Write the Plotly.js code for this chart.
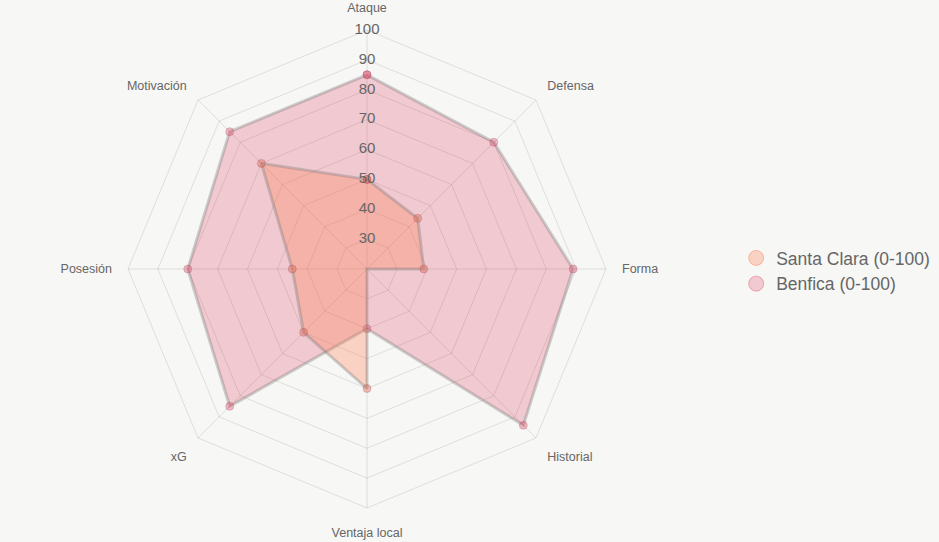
<!DOCTYPE html>
<html>
<head>
<meta charset="utf-8">
<script src="https://cdn.plot.ly/plotly-3.0.1.min.js"></script>
<style>html,body{margin:0;padding:0;background:#f7f7f5;}#chart{width:939px;height:542px;}</style>
</head>
<body>
<div id="chart"></div>
<script>
const categories = ["Ataque", "Defensa", "Forma", "Historial", "Ventaja local", "xG", "Posesión", "Motivación"];
const santaClara = [50, 44, 39, 20, 60, 50, 45, 70];
const benfica = [85, 80, 89, 94, 40, 85, 80, 85];
const seriesNames = ["Santa Clara (0-100)", "Benfica (0-100)"];
const tickVals = [30, 40, 50, 60, 70, 80, 90, 100];

const closeLoop = a => a.concat([a[0]]);

function areaTrace(values, fill, pointColor) {
  return {
    type: "scatterpolar",
    r: closeLoop(values),
    theta: closeLoop(categories),
    mode: "lines+markers",
    fill: "toself",
    fillcolor: fill,
    line: { color: "rgba(120,120,120,0.35)", width: 3 },
    marker: { size: 8, color: pointColor, line: { width: 1, color: "rgba(150,60,70,0.25)" } },
    showlegend: false,
    hoverinfo: "skip"
  };
}

function legendTrace(name, color, edge) {
  return {
    type: "scatterpolar",
    r: [null], theta: [null],
    mode: "markers",
    name: name,
    marker: { size: 15, color: color, line: { width: 1, color: edge } },
    hoverinfo: "skip"
  };
}

const tickTrace = {
  type: "scatterpolar",
  r: tickVals,
  theta: tickVals.map(() => categories[0]),
  mode: "text",
  text: tickVals.map(String),
  textposition: "middle center",
  textfont: { family: "Liberation Sans, Arial, sans-serif", size: 15, color: "#666" },
  showlegend: false,
  hoverinfo: "skip",
  cliponaxis: false
};

const data = [
  areaTrace(benfica, "rgba(220,20,60,0.2)", "rgba(220,70,100,0.35)"),
  areaTrace(santaClara, "rgba(255,127,80,0.3)", "rgba(225,100,80,0.4)"),
  tickTrace,
  legendTrace(seriesNames[0], "rgba(255,127,80,0.3)", "rgba(255,127,80,0.45)"),
  legendTrace(seriesNames[1], "rgba(220,20,60,0.2)", "rgba(220,20,60,0.3)")
];

const layout = {
  width: 939, height: 542,
  paper_bgcolor: "#f7f7f5",
  plot_bgcolor: "#f7f7f5",
  margin: { l: 0, r: 0, t: 0, b: 0 },
  font: { family: "Liberation Sans, Arial, sans-serif", color: "#666" },
  showlegend: true,
  legend: {
    x: 0.784, y: 0.5, xanchor: "left", yanchor: "middle",
    font: { size: 17.5, color: "#666" },
    bgcolor: "rgba(0,0,0,0)"
  },
  polar: {
    domain: { x: [128 / 939, 606 / 939], y: [34 / 542, 512 / 542] },
    bgcolor: "rgba(0,0,0,0)",
    gridshape: "linear",
    angularaxis: {
      rotation: 90,
      direction: "clockwise",
      categoryorder: "array",
      categoryarray: categories,
      tickfont: { size: 12.5, color: "#666" },
      gridcolor: "rgba(0,0,0,0.1)",
      linecolor: "rgba(0,0,0,0.1)",
      showline: true,
      ticks: "outside",
      ticklen: 13,
      tickcolor: "rgba(0,0,0,0)"
    },
    radialaxis: {
      range: [20, 100],
      tickvals: tickVals,
      showticklabels: false,
      ticks: "",
      showline: false,
      gridcolor: "rgba(0,0,0,0.1)"
    }
  }
};

Plotly.newPlot("chart", data, layout, { displayModeBar: false, staticPlot: true });
</script>
</body>
</html>
